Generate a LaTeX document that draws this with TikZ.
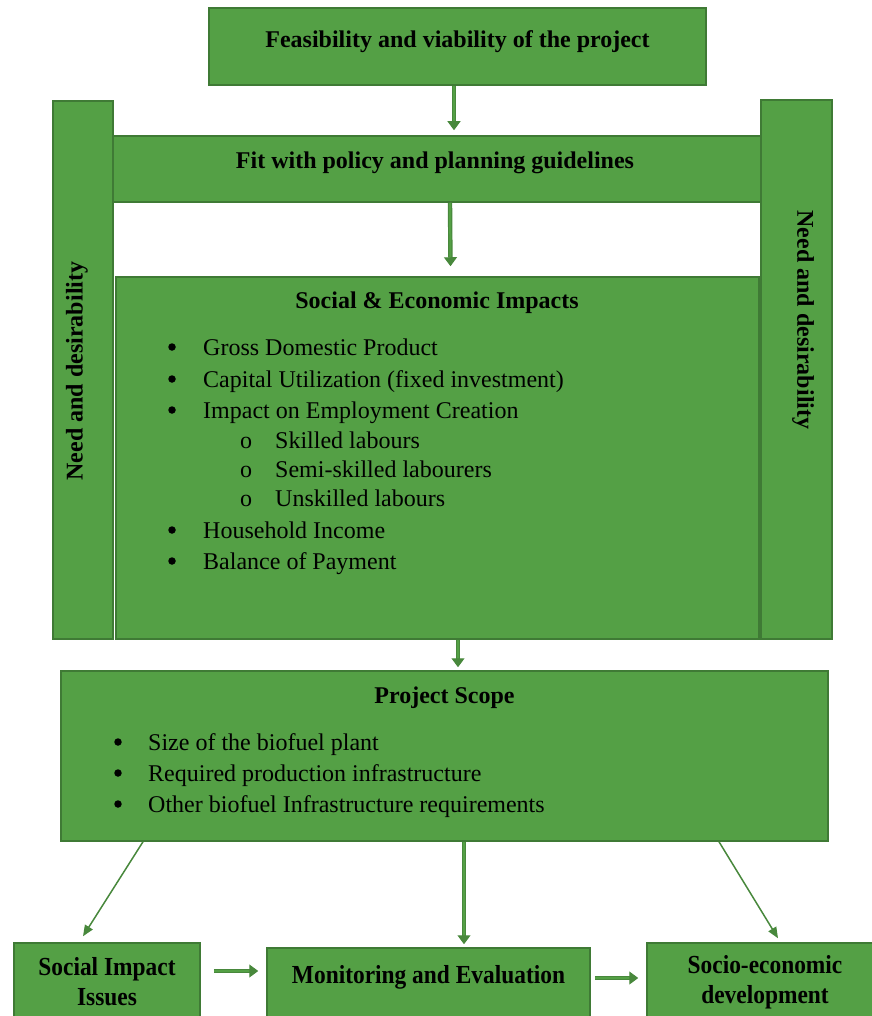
\documentclass[tikz,border=0pt]{standalone}
\usepackage{fontspec}
\setmainfont{Liberation Serif}
\newfontfamily\narrowserif[FakeStretch=0.9]{Liberation Serif}
\usepackage{xcolor}
\usepackage{tikz}
\usetikzlibrary{arrows.meta}
\definecolor{boxgreen}{RGB}{84,160,69}
\definecolor{edgegreen}{RGB}{63,122,53}
\definecolor{arrowgreen}{RGB}{72,136,60}

\begin{document}
\begin{tikzpicture}[x=1pt,y=-1pt,
	font=\fontsize{24}{28}\selectfont,
	box/.style={draw=edgegreen,fill=boxgreen,line width=1.5pt,inner sep=0pt},
	heading/.style={font=\fontsize{24}{28}\selectfont\bfseries},
	bottomtext/.style={font=\fontsize{26}{30}\narrowserif\bfseries,align=center},
	item/.style={anchor=base west,inner sep=0pt},
	dot/.style={circle,fill=black,inner sep=0pt,minimum size=7.5pt},
	flow/.style={draw=arrowgreen,double=boxgreen,double distance=2pt,line width=1.2pt,-{Triangle[width=13pt,length=9pt]}},
	thinflow/.style={draw=arrowgreen,line width=1.5pt,-{Triangle[width=9pt,length=11pt]}}]
  \useasboundingbox (0,0) rectangle (871,1016);

  \node[box,minimum width=497,minimum height=77] (feasible) at (457.5,46.5) {};
  \node[heading,anchor=base] (feasibletext) at (457.5,48) {Feasibility and viability of the project};

  \node[box,minimum width=60,minimum height=538] (needleft) at (83,370) {};
  \node[box,minimum width=71,minimum height=539] (needright) at (796.5,369.5) {};
  \node[heading,rotate=90] (needlefttext) at (77,371) {Need and desirability};
  \node[heading,rotate=-90] (needrighttext) at (803,320) {Need and desirability};

  \node[box,minimum width=648,minimum height=66] (policy) at (437,169) {};
  \node[heading,anchor=base] (policytext) at (435,169) {Fit with policy and planning guidelines};

  \node[box,minimum width=643,minimum height=362] (impacts) at (437.5,458) {};
  \node[heading,anchor=base] (impactstext) at (437,308) {Social \& Economic Impacts};
  \foreach \y/\txt in {347/Gross Domestic Product,379/{Capital Utilization (fixed investment)},
	410/Impact on Employment Creation,530/Household Income,561/Balance of Payment} {
    \node[dot] (dot\y) at (172,\y) {};
    \node[item] (item\y) at (203,\y+8) {\txt};
  }
  \foreach \y/\txt in {440/Skilled labours,469/Semi-skilled labourers,498/Unskilled labours} {
    \node[item] (ring\y) at (240,\y+8) {o};
    \node[item] (item\y) at (275,\y+8) {\txt};
  }

  \node[box,minimum width=767,minimum height=170] (scope) at (444.5,756) {};
  \node[heading,anchor=base] (scopetext) at (444.5,703) {Project Scope};
  \foreach \y/\txt in {742/Size of the biofuel plant,773/Required production infrastructure,
	804/Other biofuel Infrastructure requirements} {
    \node[dot] (dot\y) at (118,\y) {};
    \node[item] (item\y) at (148,\y+8) {\txt};
  }

  \node[box,minimum width=186,minimum height=90] (issues) at (107,988) {};
  \node[box,minimum width=323,minimum height=90] (monitor) at (428.5,993) {};
  \node[box,minimum width=228,minimum height=90] (develop) at (761,988) {};
  \node[bottomtext] (issuestext) at (107,982) {Social Impact\\Issues};
  \node[bottomtext] (monitortext) at (428.5,977) {Monitoring and Evaluation};
  \node[bottomtext] (developtext) at (765,982) {Socio-economic\\development};

  \draw[flow] ([xshift=-3.5pt]feasible.south) -- ([xshift=17pt,yshift=5pt]policy.north);
  \draw[flow] ([xshift=13pt]policy.south) -- ([xshift=13pt,yshift=10pt]impacts.north);
  \draw[flow] ([xshift=20.5pt]impacts.south) -- ([xshift=13.5pt,yshift=3pt]scope.north);
  \draw[flow] ([xshift=19.5pt]scope.south) -- ([xshift=35.5pt,yshift=3pt]monitor.north);
  \draw[thinflow] ([xshift=-301.5pt]scope.south) -- ([xshift=-24pt,yshift=6pt]issues.north);
  \draw[thinflow] ([xshift=274.5pt]scope.south) -- ([xshift=17pt,yshift=4pt]develop.north);
  \draw[flow] ([xshift=13pt,yshift=17pt]issues.east) -- ([xshift=-8pt,yshift=22pt]monitor.west);
  \draw[flow] ([xshift=4pt,yshift=15pt]monitor.east) -- ([xshift=-8pt,yshift=10pt]develop.west);
\end{tikzpicture}
\end{document}
